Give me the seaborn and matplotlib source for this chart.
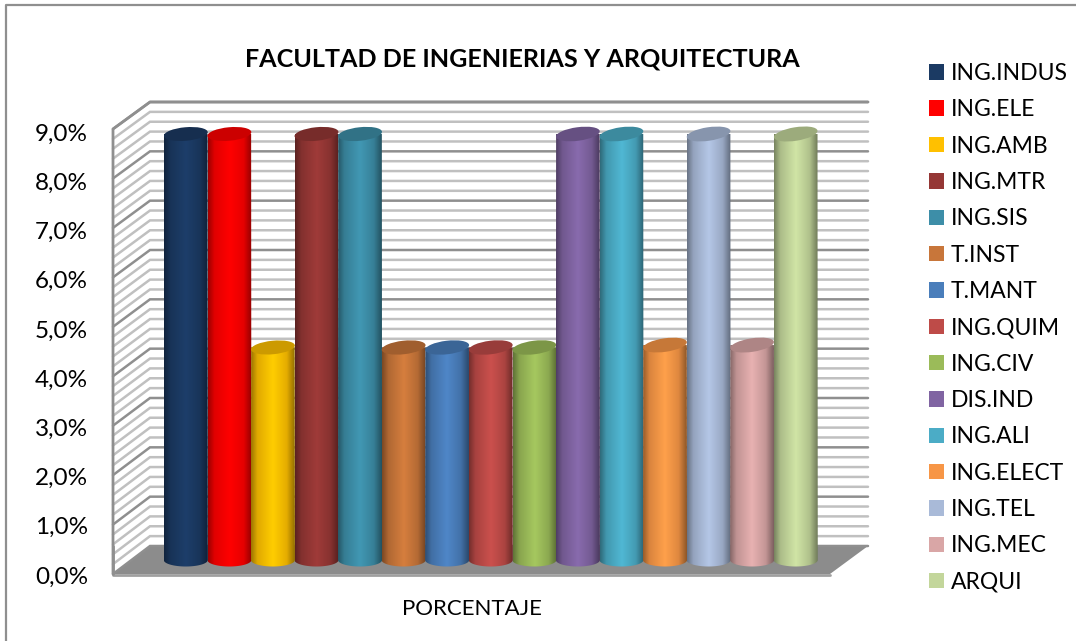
import matplotlib
matplotlib.use('Agg')
import matplotlib.pyplot as plt
import matplotlib.colors as mcolors
import matplotlib.transforms as mtransforms
import numpy as np
import pandas as pd
import seaborn as sns
from matplotlib.patches import Ellipse, Patch, Polygon

carreras = ['ING.INDUS', 'ING.ELE', 'ING.AMB', 'ING.MTR', 'ING.SIS', 'T.INST', 'T.MANT', 'ING.QUIM',
            'ING.CIV', 'DIS.IND', 'ING.ALI', 'ING.ELECT', 'ING.TEL', 'ING.MEC', 'ARQUI']
porcentaje = [8.82, 8.82, 4.4, 8.82, 8.82, 4.4, 4.4, 4.4, 4.4, 8.82, 8.82, 4.45, 8.82, 4.45, 8.82]
colores = ['#1B3A63', '#FF0000', '#FFC000', '#953735', '#3D8EA8', '#C8763A', '#4A7EBB', '#BE4B48',
           '#9BBB59', '#8064A2', '#4BACC6', '#F79646', '#A9BAD8', '#D9A6A6', '#C3D69B']
ticks_y = [0, 1, 2, 3, 4, 5, 6, 7, 8, 9]
ticks_menores = np.arange(0, 9.01, 0.2)

W, H = 1076, 641
df = pd.DataFrame({'carrera': carreras, 'porcentaje': porcentaje})

sns.set_theme(style='white')
plt.rcParams['font.family'] = ['Lato', 'DejaVu Sans']

fig = plt.figure(figsize=(W / 100, H / 100), dpi=100, facecolor='white')


def caja(x0, y0, x1, y1):
    # pixel box (top-left origin) to figure fractions
    return [x0 / W, 1 - y1 / H, (x1 - x0) / W, (y1 - y0) / H]


# fondo: walls and floor in pixel coordinates
fondo = fig.add_axes([0, 0, 1, 1])
fondo.set_xlim(0, W)
fondo.set_ylim(H, 0)
fondo.axis('off')
fondo.plot([6, 6, W], [H, 5, 5], color='#8f8f8f', lw=1.6)

front_x, back_x, back_r, front_r = 113, 150, 868, 830
front_0, front_9 = 574, 129
back_0, back_9 = 546, 102


def fy(v):
    return front_0 + (front_9 - front_0) * v / 9


def by(v):
    return back_0 + (back_9 - back_0) * v / 9


for v in ticks_menores:
    mayor = abs(v - round(v)) < 1e-6
    col = '#8f8f8f' if mayor else '#c0c0c0'
    fondo.plot([front_x, back_x, back_r], [fy(v), by(v), by(v)], color=col, lw=1.8, solid_joinstyle='miter')
fondo.plot([front_x, front_x, back_x, back_r], [front_0, front_9, back_9, back_9], color='#8f8f8f', lw=2)
fondo.add_patch(Polygon([(front_x, front_0), (front_r, front_0), (back_r, back_0), (back_x, back_0)],
                        fc='#8c8c8c', ec='none'))
fondo.plot([front_x, front_r], [front_0 + 1, front_0 + 1], color='#a0a0a0', lw=2)
fondo.plot([front_x, front_x], [back_0, front_0], color='#8f8f8f', lw=2)

# front plane carries the value axis and its labels
frente = fig.add_axes(caja(front_x, 132, front_r, 575))
frente.patch.set_alpha(0)
frente.set_ylim(0, 9)
frente.set_xlim(0, 1)
frente.set_yticks(ticks_y)
frente.set_yticklabels([f'{t:.1f}%'.replace('.', ',') for t in ticks_y], fontsize=17.5, color='black')
frente.set_xticks([])
frente.set_xlabel('PORCENTAJE', fontsize=16, color='black', labelpad=17)
frente.tick_params(axis='y', length=0, pad=18)
sns.despine(ax=frente, left=True, bottom=True)

# bars sit on the middle depth plane
escala = 48.3
base_px = 560
ax = fig.add_axes(caja(164, base_px - 9 * escala, 817.5, base_px + 0.4 * escala))
ax.patch.set_alpha(0)
sns.barplot(data=df, x='carrera', y='porcentaje', hue='carrera', palette=colores, width=1.0,
            saturation=1, legend=False, ax=ax, zorder=2)
ax.set_xlim(-0.5, 14.5)
ax.set_ylim(-0.4, 9)
ax.axis('off')

ident = mtransforms.IdentityTransform()
fig.canvas.draw()
for i, (barra, color) in enumerate(zip(ax.patches, colores)):
    x0, alto = barra.get_x(), barra.get_height()
    base = np.array(mcolors.to_rgb(color))
    tonos = [(0, 0.62), (0.14, 0.88), (0.5, 1.07), (0.82, 0.9), (1, 0.58)]
    cmap = mcolors.LinearSegmentedColormap.from_list('cil', [(p, np.clip(base * f, 0, 1)) for p, f in tonos])

    (px0, py0), (px1, py1) = ax.transData.transform([(x0, 0), (x0 + 1, alto)])
    cx, ancho = (px0 + px1) / 2, px1 - px0 + 0.5
    ang = 5 + 4 * i / 14

    # cylinder body: rectangle plus rounded lower end, filled with the shading
    t = np.linspace(0, np.pi, 40)
    inf = np.column_stack([cx + ancho / 2 * np.cos(t), py0 - 6.5 * np.sin(t)])
    cuerpo = Polygon(np.vstack([[(px0, py1)], [(px1, py1)], inf]), transform=ident)
    img = ax.imshow(np.linspace(0, 1, 64).reshape(1, -1), cmap=cmap, aspect='auto',
                    extent=(x0, x0 + 1, -0.4, alto), zorder=3 + i, interpolation='bilinear')
    img.set_clip_path(cuerpo.get_path(), ident)
    barra.set_visible(False)

    ax.add_patch(Ellipse((cx, py1), ancho, 13.5, angle=ang, transform=ident, fc=base * 0.8, ec='none',
                         zorder=3.5 + i))
ax.set_xlim(-0.5, 14.5)
ax.set_ylim(-0.4, 9)

fig.text(522 / W, 1 - 59 / H, 'FACULTAD DE INGENIERIAS Y ARQUITECTURA', ha='center', va='center',
         fontsize=18.1, fontweight='bold', color='black')

handles = [Patch(facecolor=c, edgecolor='none', label=n) for c, n in zip(colores, carreras)]
fig.legend(handles=handles, loc='upper left', bbox_to_anchor=(922 / W, 1 - 56 / H), frameon=False,
           fontsize=16.5, handlelength=0.655, handleheight=0.655, handletextpad=0.3, labelspacing=0.67,
           labelcolor='black', borderpad=0.3, borderaxespad=0)

fig.savefig('out.png', dpi=100)
